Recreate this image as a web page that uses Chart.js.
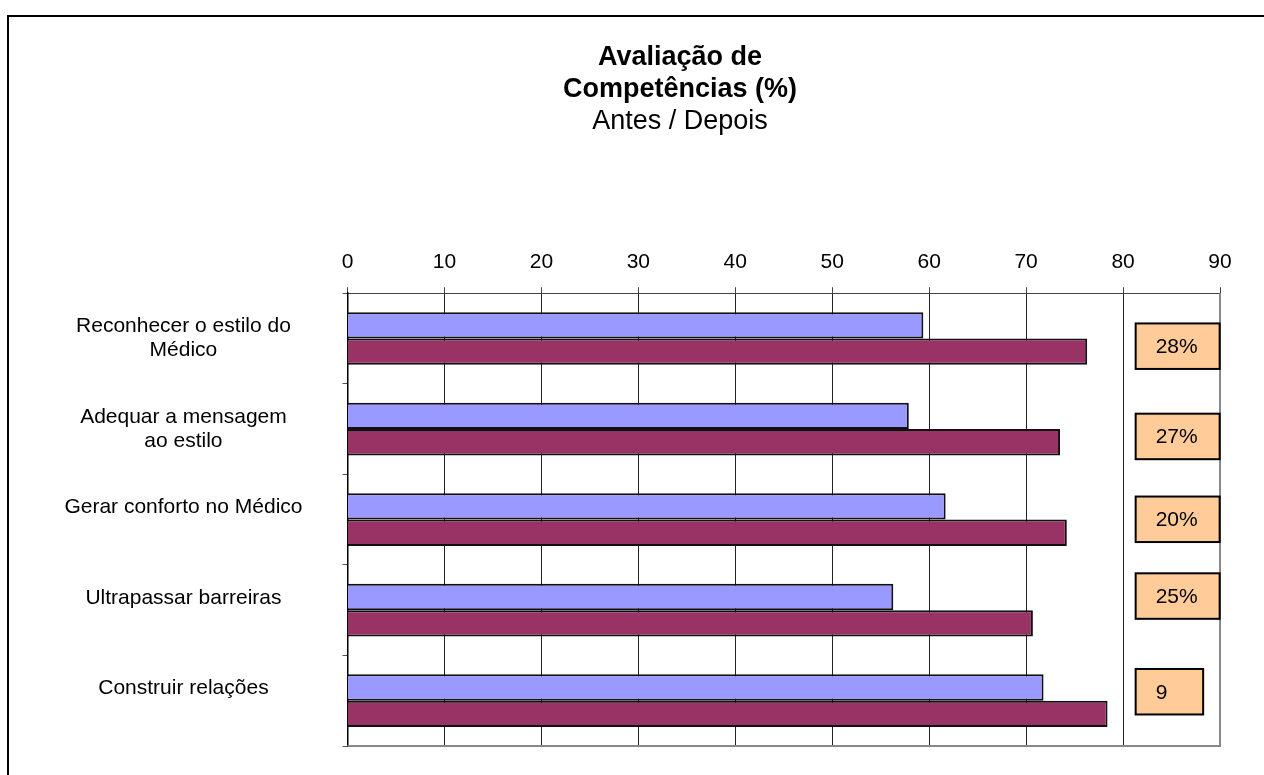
<!DOCTYPE html>
<html>
<head>
<meta charset="utf-8">
<script src="https://cdn.jsdelivr.net/npm/chart.js@4.4.1/dist/chart.umd.min.js"></script>
<style>
  html, body { margin: 0; padding: 0; background: #fff; }
</style>
</head>
<body>
<canvas id="competenciasChart" width="1264" height="775"></canvas>
<script>
// avaliação antes / depois, por competência
const competencias = [
  ["Reconhecer o estilo do", "Médico"],
  ["Adequar a mensagem", "ao estilo"],
  ["Gerar conforto no Médico", ""],
  ["Ultrapassar barreiras", ""],
  ["Construir relações", ""],
];
const antes = [59.4, 57.9, 61.7, 56.3, 71.8];
const depois = [76.3, 73.5, 74.2, 70.7, 78.4];
const ganhos = ["28%", "27%", "20%", "25%", "9"];
const titulo = ["Avaliação de", "Competências (%)"];
const subtitulo = "Antes / Depois";

const FONT = "'Liberation Sans', Arial, sans-serif";
Chart.defaults.font.family = FONT;
Chart.defaults.color = "#000";

// moldura exterior do gráfico
const moldura = {
  id: "moldura",
  beforeDraw(chart) {
    const { ctx } = chart;
    ctx.save();
    ctx.fillStyle = "#fff";
    ctx.fillRect(0, 0, chart.width, chart.height);
    ctx.strokeStyle = "#000";
    ctx.lineWidth = 2;
    ctx.strokeRect(8, 16, 1400, 900);
    ctx.restore();
  },
};

// título em três linhas (duas a negrito)
const tituloGrafico = {
  id: "tituloGrafico",
  afterDraw(chart, args, opts) {
    const { ctx } = chart;
    ctx.save();
    ctx.textAlign = "center";
    ctx.textBaseline = "middle";
    ctx.fillStyle = "#000";
    ctx.font = "bold 27px " + FONT;
    titulo.forEach((linha, i) => {
      ctx.fillText(linha, opts.x, opts.y + i * opts.linha);
    });
    ctx.font = "27px " + FONT;
    ctx.fillText(subtitulo, opts.x, opts.y + titulo.length * opts.linha);
    ctx.restore();
  },
};

// contorno cinzento da área de desenho (direita e base)
const contornoArea = {
  id: "contornoArea",
  beforeDatasetsDraw(chart) {
    const { ctx, chartArea: { left, right, bottom, top } } = chart;
    ctx.save();
    ctx.strokeStyle = "#888";
    ctx.lineWidth = 2;
    ctx.beginPath();
    ctx.moveTo(left, bottom);
    ctx.lineTo(right, bottom);
    ctx.lineTo(right, top);
    ctx.stroke();
    ctx.restore();
  },
};

// caixas com o ganho percentual
const caixasGanho = {
  id: "caixasGanho",
  afterDatasetsDraw(chart, args, opts) {
    const { ctx, scales: { x, y } } = chart;
    ctx.save();
    ctx.font = "21px " + FONT;
    ctx.textBaseline = "middle";
    ctx.textAlign = "left";
    ganhos.forEach((txt, i) => {
      const left = x.getPixelForValue(opts.inicio);
      const cy = y.getPixelForValue(i) + opts.desvios[i];
      const w = opts.larguras[i];
      const h = opts.altura;
      ctx.fillStyle = "#FFCC99";
      ctx.fillRect(left, cy - h / 2, w, h);
      ctx.strokeStyle = "#000";
      ctx.lineWidth = 2;
      ctx.strokeRect(left, cy - h / 2, w, h);
      ctx.fillStyle = "#000";
      ctx.fillText(txt, left + 20, cy + 1);
    });
    ctx.restore();
  },
};

const ctx = document.getElementById("competenciasChart");

new Chart(ctx, {
  type: "bar",
  data: {
    labels: competencias,
    datasets: [
      {
        label: "Antes",
        data: antes,
        backgroundColor: "#9999FF",
        borderColor: "#111",
        borderWidth: 2,
      },
      {
        label: "Depois",
        data: depois,
        backgroundColor: "#993366",
        borderColor: "#111",
        borderWidth: 2,
      },
    ],
  },
  options: {
    responsive: false,
    animation: false,
    indexAxis: "y",
    categoryPercentage: 0.582,
    barPercentage: 1,
    layout: {
      padding: { left: 10, right: 44, top: 238, bottom: 29 },
    },
    scales: {
      x: {
        position: "top",
        min: 0,
        max: 90,
        ticks: {
          stepSize: 10,
          padding: 12,
          font: { size: 21 },
        },
        grid: {
          color: (c) => (c.tick && c.tick.value === 90 ? "#888" : "#222"),
          tickLength: 6,
          tickColor: "#444",
        },
        border: { color: "#444", width: 1 },
      },
      y: {
        ticks: {
          crossAlign: "center",
          padding: 40,
          font: { size: 21, lineHeight: 1.15 },
        },
        grid: {
          drawOnChartArea: false,
          tickLength: 5,
          tickColor: "#555",
        },
        border: { color: "#000", width: 1.5 },
        afterFit(scale) {
          scale.width = 337.5;
          // os rótulos ficam dentro das categorias, sem folga extra
          scale.paddingTop = 0;
          scale.paddingBottom = 0;
        },
      },
    },
    plugins: {
      legend: { display: false },
      tooltip: { enabled: false },
      tituloGrafico: { x: 680, y: 58, linha: 32 },
      caixasGanho: {
        inicio: 81.3,
        larguras: [84, 84, 84, 84, 67.5],
        altura: 45.5,
        desvios: [7.7, 7.4, -0.3, -14.1, -9],
      },
    },
  },
  plugins: [moldura, tituloGrafico, contornoArea, caixasGanho],
});
</script>
</body>
</html>
